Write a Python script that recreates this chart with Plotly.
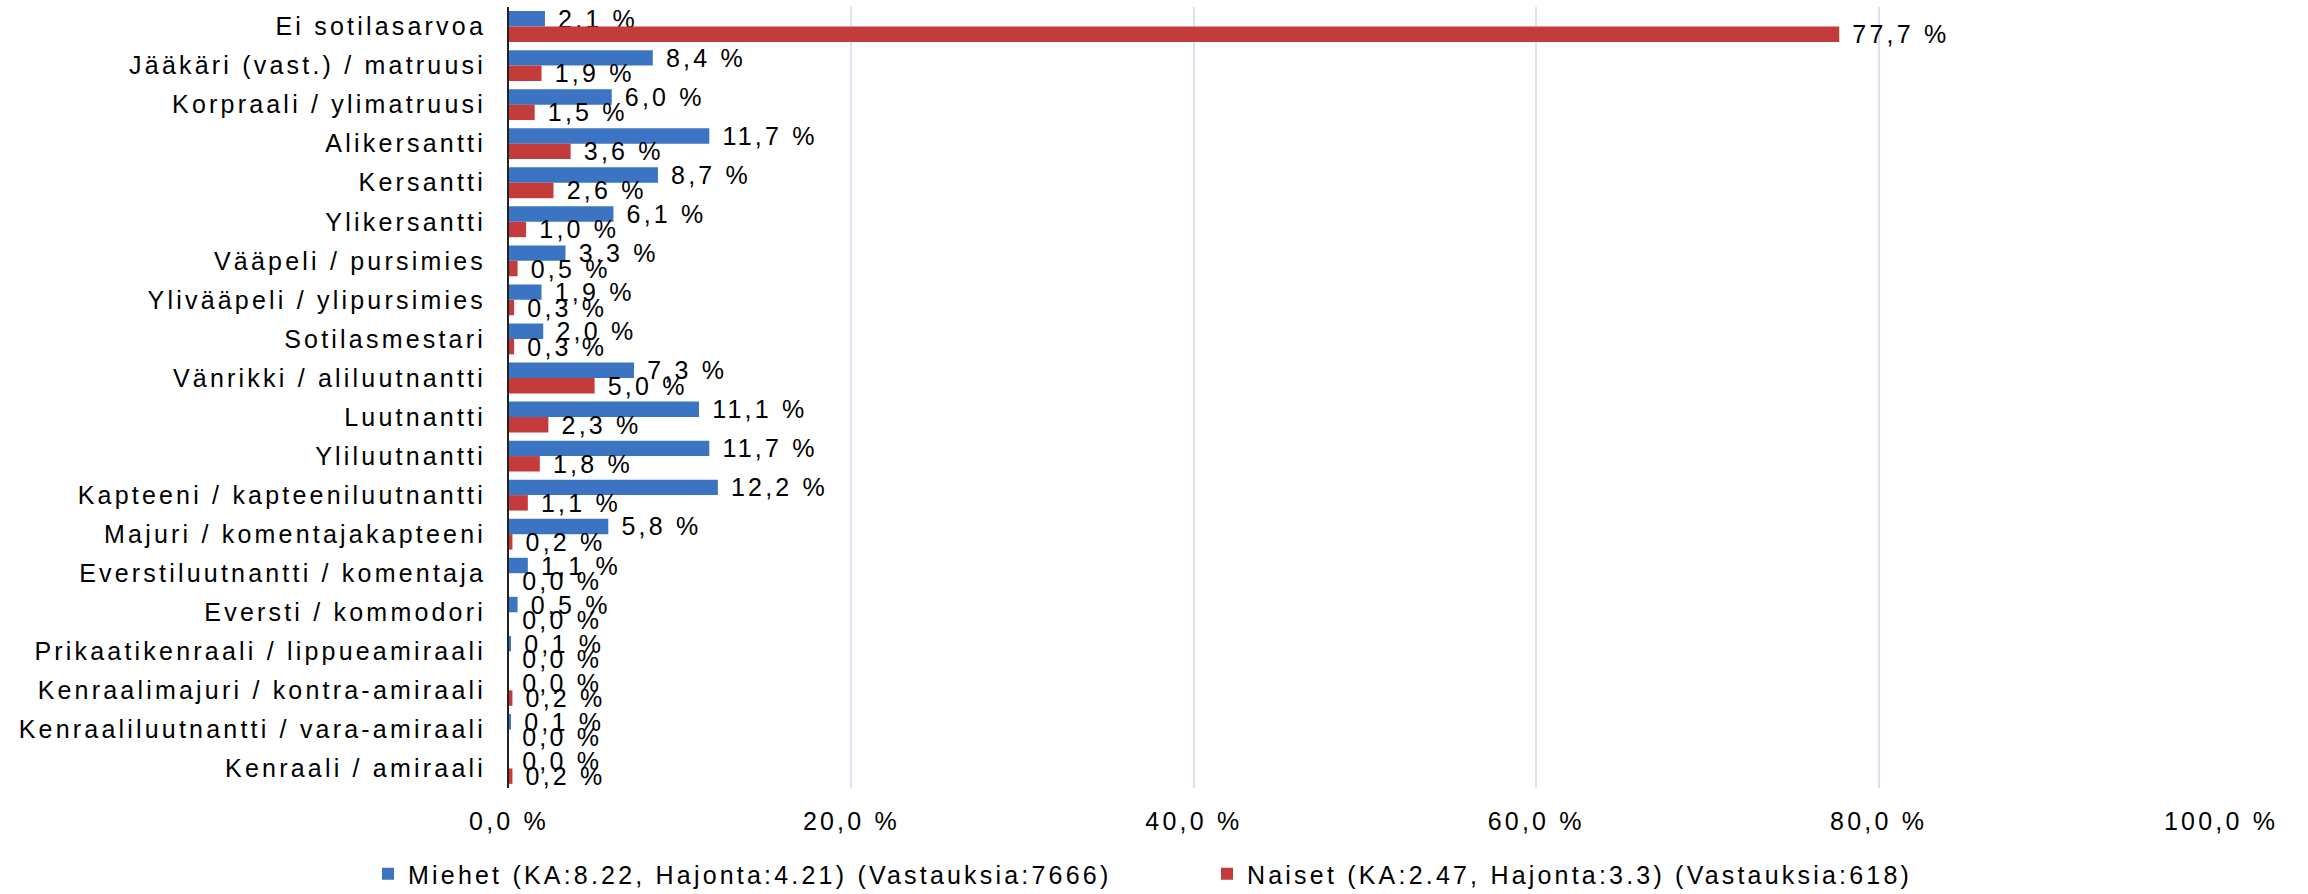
import plotly.graph_objects as go

categories = [
    "Ei sotilasarvoa",
    "Jääkäri (vast.) / matruusi",
    "Korpraali / ylimatruusi",
    "Alikersantti",
    "Kersantti",
    "Ylikersantti",
    "Vääpeli / pursimies",
    "Ylivääpeli / ylipursimies",
    "Sotilasmestari",
    "Vänrikki / aliluutnantti",
    "Luutnantti",
    "Yliluutnantti",
    "Kapteeni / kapteeniluutnantti",
    "Majuri / komentajakapteeni",
    "Everstiluutnantti / komentaja",
    "Eversti / kommodori",
    "Prikaatikenraali / lippueamiraali",
    "Kenraalimajuri / kontra-amiraali",
    "Kenraaliluutnantti / vara-amiraali",
    "Kenraali / amiraali",
]
miehet = [2.1, 8.4, 6.0, 11.7, 8.7, 6.1, 3.3, 1.9, 2.0, 7.3, 11.1, 11.7, 12.2, 5.8, 1.1, 0.5, 0.1, 0.0, 0.1, 0.0]
naiset = [77.7, 1.9, 1.5, 3.6, 2.6, 1.0, 0.5, 0.3, 0.3, 5.0, 2.3, 1.8, 1.1, 0.2, 0.0, 0.0, 0.0, 0.2, 0.0, 0.2]
series_names = [
    "Miehet (KA:8.22, Hajonta:4.21) (Vastauksia:7666)",
    "Naiset (KA:2.47, Hajonta:3.3) (Vastauksia:618)",
]
x_tick_vals = [0, 20, 40, 60, 80, 100]
x_tick_labels = ["0,0 %", "20,0 %", "40,0 %", "60,0 %", "80,0 %", "100,0 %"]

W, H = 2308, 894
FONT = "Liberation Sans, Arial, sans-serif"
FONT2 = "Liberation Sans, Arial"
FS = 25
BLUE = "#3B74C2"
RED = "#C33B3A"

fig = go.Figure()
fig.add_trace(go.Bar(
    y=categories, x=miehet, orientation="h", name=series_names[0],
    marker=dict(color=BLUE, line=dict(width=0)),
    texttemplate="\u00a0%{x:.1f} %", textposition="outside",
    textfont=dict(size=FS, color="#000000", family=FONT),
    constraintext="none", cliponaxis=False, legend="legend",
))
fig.add_trace(go.Bar(
    y=categories, x=naiset, orientation="h", name=series_names[1],
    marker=dict(color=RED, line=dict(width=0)),
    texttemplate="\u00a0%{x:.1f} %", textposition="outside",
    textfont=dict(size=FS, color="#000000", family=FONT),
    constraintext="none", cliponaxis=False, legend="legend2",
))

fig.update_layout(
    width=W, height=H,
    margin=dict(l=509, r=87, t=7, b=106, autoexpand=False),
    paper_bgcolor="white", plot_bgcolor="white",
    font=dict(family=FONT, size=FS, color="#000000"),
    separators=", ",
    barmode="group", bargap=0.21, bargroupgap=0,
    showlegend=True,
    legend=dict(
        xref="container", yref="container", x=368 / W, y=1 - 874 / H,
        xanchor="left", yanchor="middle", orientation="h",
        font=dict(size=FS, family=FONT, color="#000000"),
        bgcolor="rgba(0,0,0,0)", borderwidth=0,
    ),
    legend2=dict(
        xref="container", yref="container", x=1207 / W, y=1 - 874 / H,
        xanchor="left", yanchor="middle", orientation="h",
        font=dict(size=FS, family=FONT, color="#000000"),
        bgcolor="rgba(0,0,0,0)", borderwidth=0,
    ),
    xaxis=dict(
        range=[0, 100], tickvals=x_tick_vals, ticktext=x_tick_labels,
        showgrid=True, gridcolor="#D8E2EF", gridwidth=1.5,
        zeroline=False, showline=False, ticks="",
        ticklabelstandoff=16,
        tickfont=dict(size=FS, family=FONT, color="#000000"),
    ),
    yaxis=dict(
        autorange="reversed", showgrid=False, zeroline=False,
        showline=True, linecolor="#222222", linewidth=2, ticks="",
        ticklabelstandoff=16,
        tickfont=dict(size=FS, family=FONT, color="#000000"),
    ),
)

# second render after letter-spacing style is in place (different font string
# so that text sizes are measured again with the spacing applied)
fig_json = fig.to_json().replace(FONT, FONT2)
post = (
    "var st=document.createElement('style');"
    "st.textContent='text{letter-spacing:3.2px;} body{margin:0;}';"
    "document.head.appendChild(st);"
    "var gd=document.getElementById('{plot_id}');"
    "var f=" + fig_json + ";"
    "Plotly.purge(gd);"
    "Plotly.newPlot(gd, f.data, f.layout, {displayModeBar:false});"
)

fig.write_html("out.html", config={"displayModeBar": False}, post_script=post)
